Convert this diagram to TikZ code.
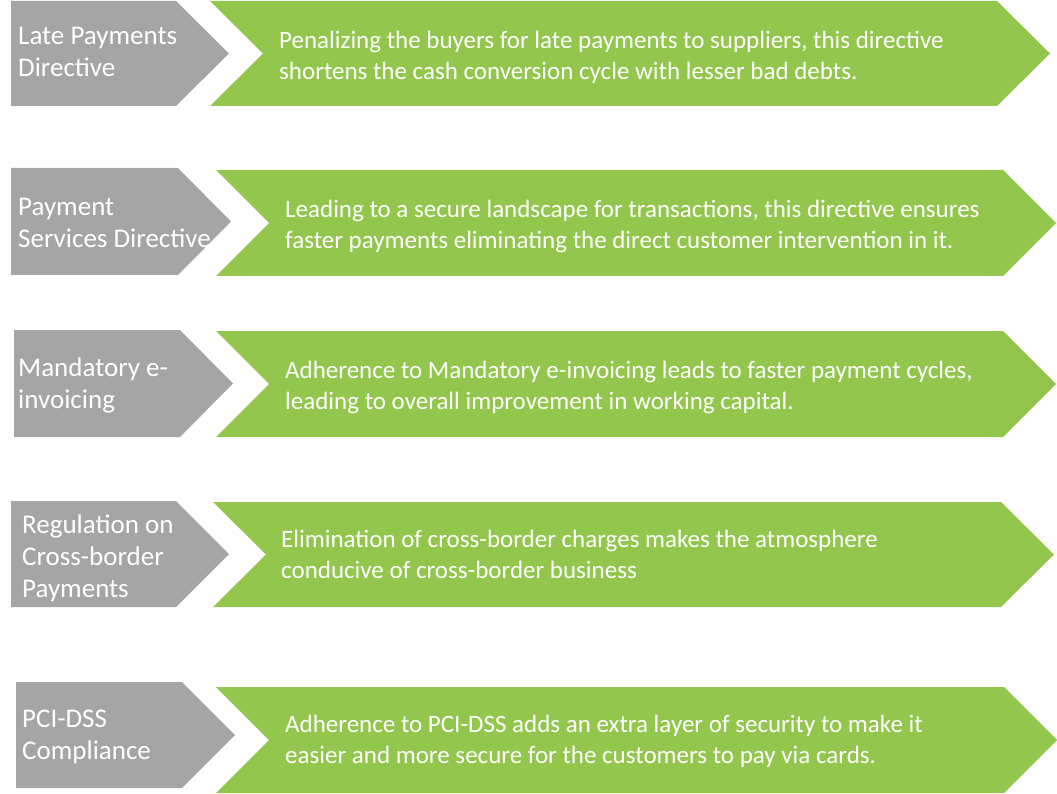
\documentclass[tikz,border=0pt]{standalone}
\usepackage{fontspec}
\setmainfont{Carlito}
\usetikzlibrary{positioning}
\definecolor{lawgrey}{HTML}{A5A5A5}
\definecolor{effectgreen}{HTML}{93C64C}

\begin{document}
\begin{tikzpicture}[x=1pt,y=-1pt]

        % 定义样式
        \tikzstyle{law} = [fill=lawgrey]
        \tikzstyle{effect} = [fill=effectgreen]
        \tikzstyle{lawtext} = [anchor=west, text=white, align=left, inner sep=0pt, font=\fontsize{27}{32}\selectfont]
        \tikzstyle{effecttext} = [anchor=west, text=white, align=left, inner sep=0pt, font=\fontsize{25}{31}\selectfont]

        \useasboundingbox (0,0) rectangle (1057,794);

        % 绘制形状
        \fill [law] (11,1) -- (176,1) -- (229,53.5) -- (176,106) -- (11,106) -- cycle;
        \fill [effect] (210,1) -- (997,1) -- (1050,53.5) -- (997,106) -- (210,106) -- (263,53.5) -- cycle;
        \fill [law] (11,168) -- (178,168) -- (231,221.5) -- (178,275) -- (11,275) -- cycle;
        \fill [effect] (216,170) -- (1003,170) -- (1056,223) -- (1003,276) -- (216,276) -- (269,223) -- cycle;
        \fill [law] (14,330) -- (180,330) -- (233,383.5) -- (180,437) -- (14,437) -- cycle;
        \fill [effect] (216,331) -- (1003,331) -- (1056,384) -- (1003,437) -- (216,437) -- (269,384) -- cycle;
        \fill [law] (11,501) -- (176,501) -- (229,554) -- (176,607) -- (11,607) -- cycle;
        \fill [effect] (213,502) -- (1001,502) -- (1054,554.5) -- (1001,607) -- (213,607) -- (266,554.5) -- cycle;
        \fill [law] (16,682) -- (182,682) -- (235,735) -- (182,788) -- (16,788) -- cycle;
        \fill [effect] (216,687) -- (1004,687) -- (1057,740) -- (1004,793) -- (216,793) -- (269,740) -- cycle;

        % 文字
        \node (lawtext1) [lawtext] at (18,51.5) {Late Payments\\Directive};
        \node (effecttext1) [effecttext] at (279,57.5) {Penalizing the buyers for late payments to suppliers, this directive\\shortens the cash conversion cycle with lesser bad debts.};
        \node (lawtext2) [lawtext] at (18,222.5) {Payment\\Services Directive};
        \node (effecttext2) [effecttext] at (285,226) {Leading to a secure landscape for transactions, this directive ensures\\faster payments eliminating the direct customer intervention in it.};
        \node (lawtext3) [lawtext] at (18,385.5) {Mandatory e-\\invoicing};
        \node (effecttext3) [effecttext] at (285,387) {Adherence to Mandatory e-invoicing leads to faster payment cycles,\\leading to overall improvement in working capital.};
        \node (lawtext4) [lawtext] at (22,558) {Regulation on\\Cross-border\\Payments};
        \node (effecttext4) [effecttext] at (281,554.5) {Elimination of cross-border charges makes the atmosphere\\conducive of cross-border business};
        \node (lawtext5) [lawtext] at (22,737) {PCI-DSS\\Compliance};
        \node (effecttext5) [effecttext] at (285,741) {Adherence to PCI-DSS adds an extra layer of security to make it\\easier and more secure for the customers to pay via cards.};

    \end{tikzpicture}
\end{document}
